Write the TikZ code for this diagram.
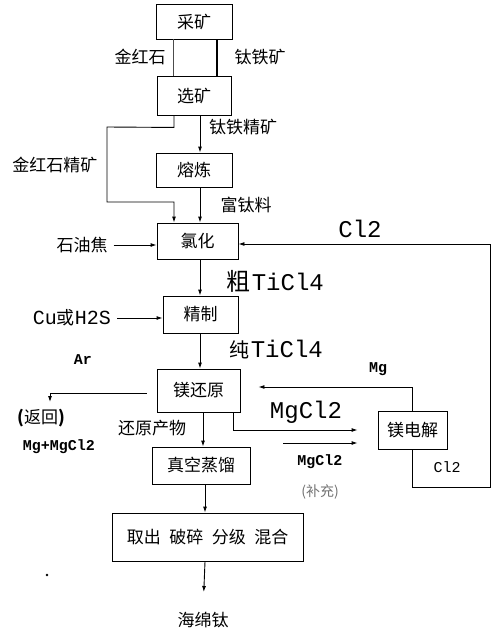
\documentclass[tikz,border=0pt]{standalone}
\usepackage{fontspec}
\setmainfont{Noto Sans CJK SC}
\newfontfamily\monofam{Liberation Mono}
\usetikzlibrary{arrows.meta}
\tikzset{
  procbox/.style={draw, line width=0.9pt, inner sep=0pt, font=\fontsize{17}{20}\selectfont},
  lbl/.style={inner sep=0pt, font=\fontsize{17}{20}\selectfont},
  biglbl/.style={inner sep=0pt, font=\monofam\fontsize{24}{28}\selectfont},
  smlbl/.style={inner sep=0pt, font=\monofam\bfseries\fontsize{15}{18}\selectfont},
  flow/.style={line width=0.9pt, -{Latex[length=6pt,width=4pt]}},
  plain/.style={line width=0.9pt}
}
\begin{document}
\begin{tikzpicture}[x=1pt,y=-1pt]
\useasboundingbox (0,0) rectangle (495,632);

% boxes
\node[procbox, minimum width=76pt, minimum height=35pt] (caik) at (194,21.5) {采矿};
\node[procbox, minimum width=74pt, minimum height=39pt] (xuan) at (194,95.5) {选矿};
\node[procbox, minimum width=76pt, minimum height=34pt] (rong) at (194,170) {熔炼};
\node[procbox, minimum width=81pt, minimum height=36pt] (lvh) at (197.5,241) {氯化};
\node[procbox, minimum width=75pt, minimum height=37pt] (jz) at (200.5,314.5) {精制};
\node[procbox, minimum width=83pt, minimum height=43pt] (mghy) at (198.5,390.5) {镁还原};
\node[procbox, minimum width=69pt, minimum height=38pt] (mgdj) at (412.5,430) {镁电解};
\node[procbox, minimum width=98pt, minimum height=37pt] (zkzl) at (201,465.5) {真空蒸馏};
\node[procbox, minimum width=191pt, minimum height=48pt] (qc) at (207.5,537) {取出\hspace{0.5em}破碎\hspace{0.5em}分级\hspace{0.5em}混合};

% labels
\node[lbl] (jhs) at (140,57) {金红石};
\node[lbl] (ttk) at (260,57) {钛铁矿};
\node[lbl] (ttjk) at (243,127) {钛铁精矿};
\node[lbl] (jhsjk) at (55,165) {金红石精矿};
\node[lbl] (ftl) at (246,205) {富钛料};
\node[biglbl] (cl2a) at (360,229) {Cl2};
\node[lbl] (syj) at (82,245) {石油焦};
\node[inner sep=0pt] (cu) at (275,281) {{\fontsize{24}{28}\selectfont 粗}\,{\monofam\fontsize{24}{28}\selectfont TiCl4}};
\node[inner sep=0pt] (cuh) at (72,318) {{\monofam\fontsize{20}{24}\selectfont Cu}{\fontsize{18}{22}\selectfont 或}{\monofam\fontsize{20}{24}\selectfont H2S}};
\node[inner sep=0pt] (chun) at (276,350) {{\fontsize{20}{24}\selectfont 纯}\,{\monofam\fontsize{24}{28}\selectfont TiCl4}};
\node[smlbl] (ar) at (83,360) {Ar};
\node[smlbl] (mg) at (378,369) {Mg};
\node[biglbl] (mgcl) at (306,412) {MgCl2};
\node[lbl] (fh) at (41,418) {\textbf{(}返回\textbf{)}};
\node[lbl] (hycw) at (152,428) {还原产物};
\node[smlbl] (mgmg) at (59,447) {Mg+MgCl2};
\node[smlbl] (mgcl2) at (320,462) {MgCl2};
\node[smlbl, font=\monofam\fontsize{15}{18}\selectfont] (cl2b) at (447,467) {Cl2};
\node[lbl, text=black!55, font=\fontsize{14}{17}\selectfont] (bc) at (320,492) {(补充)};
\node[lbl] (hmt) at (203,620) {海绵钛};
\fill (47,575) circle (1.4pt);

% connectors
\draw[plain, black!70] ([xshift=-21pt]caik.south) -- ([xshift=-21pt]xuan.north);
\draw[line width=2pt] ([xshift=23pt]caik.south) -- ([xshift=23pt]xuan.north);
\draw[flow] ([xshift=6pt]xuan.south) -- ([xshift=6pt]rong.north);
\draw[flow] ([xshift=-20pt]xuan.south) -- ++(0,12) -- (107,127) -- (107,202) -- (174,202) -- ([xshift=-23.5pt]lvh.north);
\draw[flow] ([xshift=6pt]rong.south) -- ([xshift=2.5pt]lvh.north);
\draw[flow] (syj.east) ++(6pt,0) -- (syj.east -| lvh.west);
\draw[flow] ([xshift=2.5pt]lvh.south) -- ([xshift=-0.5pt]jz.north);
\draw[flow] (cuh.east) ++(6pt,0) -- (cuh.east -| jz.west);
\draw[flow] ([xshift=-0.5pt]jz.south) -- ([xshift=1.5pt]mghy.north);
\draw[flow] ([xshift=4.5pt]mghy.south) -- ([xshift=2pt]zkzl.north);
\draw[flow] ([xshift=4pt]zkzl.south) -- ([xshift=-2.5pt]qc.north);
\draw[flow, shorten >=20pt] ([xshift=-2.5pt]qc.south) -- (hmt.north);
% Cl2 loop
\draw[flow] (mgdj.south) -- (412.5,487) -- (490,487) -- (490,244) -- ([yshift=-3pt]lvh.east);
% Mg back to reduction
\draw[flow, shorten >=18pt] (mgdj.north) |- ([yshift=3.5pt]mghy.east);
% MgCl2 to electrolysis
\draw[flow, shorten >=20pt] ([xshift=34.5pt]mghy.south) |- (mgdj.west);
\coordinate (supst) at (283,443);
\draw[flow, shorten >=20pt] (supst) -- (supst -| mgdj.west);
% return
\coordinate (fhend) at (50,402);
\draw[flow] ([xshift=-10pt,yshift=-2.5pt]mghy.west) -- (50,393) -- (fhend);
\end{tikzpicture}
\end{document}
